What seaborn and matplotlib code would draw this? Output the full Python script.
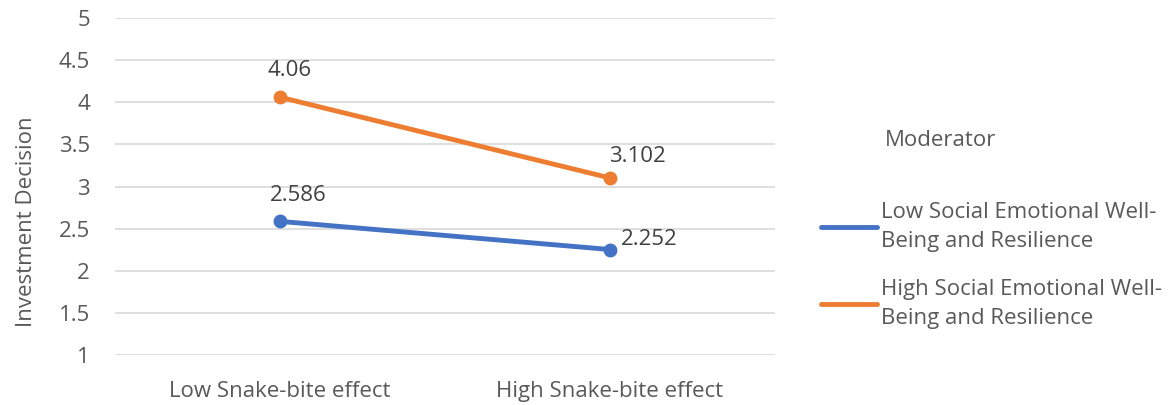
import pandas as pd
import matplotlib.pyplot as plt
import seaborn as sns

categories = ["Low Snake-bite effect", "High Snake-bite effect"]
series_names = ["Low Social Emotional Well-\nBeing and Resilience",
                "High Social Emotional Well-\nBeing and Resilience"]
low_values = [2.586, 2.252]
high_values = [4.06, 3.102]
y_ticks = [1, 1.5, 2, 2.5, 3, 3.5, 4, 4.5, 5]

sns.set_style("white")
plt.rcParams['font.family'] = ['Open Sans', 'DejaVu Sans']
text_col = '#595959'
fs = 16

df = pd.DataFrame({
    "x": list(range(len(categories))) * 2,
    "y": low_values + high_values,
    "Moderator": [series_names[0]] * 2 + [series_names[1]] * 2,
})

fig = plt.figure(figsize=(11.76, 4.05), dpi=100)
ax = fig.add_axes([0.0978, 0.1235, 0.561, 0.832])

sns.lineplot(data=df, x="x", y="y", hue="Moderator",
             palette=['#4472C4', '#ED7D31'], marker='o', markersize=10,
             markeredgewidth=0, linewidth=3.5, ax=ax)

ax.set_xlim(-0.5, 1.5)
ax.set_ylim(1, 5)
ax.set_xticks(range(len(categories)))
ax.set_xticklabels(categories)
ax.set_yticks(y_ticks)
ax.set_yticklabels([f'{t:g}' for t in y_ticks])
ax.tick_params(axis='both', length=0, labelsize=fs, colors=text_col)
ax.tick_params(axis='x', pad=19)
ax.tick_params(axis='y', pad=18)
ax.grid(axis='y', color='#d9d9d9', linewidth=1.2)
ax.set_axisbelow(True)
for s in ax.spines.values():
    s.set_visible(False)
ax.set_xlabel('')
ax.set_ylabel('Investment Decision', fontsize=fs, color=text_col, labelpad=16, y=0.395)

# data labels
offsets = {(0, 0): (13, 11), (0, 1): (7, 12), (1, 0): (8, 0), (1, 1): (20, 8)}
for si, vals in enumerate([low_values, high_values]):
    for xi, v in enumerate(vals):
        dx, dy = offsets[(xi, si)]
        ha = 'left' if (xi, si) == (1, 0) else 'center'
        ax.annotate(f'{v:g}', (xi, v), xytext=(dx, dy), textcoords='offset points',
                    ha=ha, va='bottom', fontsize=fs, color='#404040')

fig.text(885 / 1176, 1 - 140 / 405, 'Moderator', fontsize=fs, color=text_col,
         ha='left', va='center')
leg = ax.legend(loc='upper left', bbox_to_anchor=(1.057, 0.48),
                frameon=False, fontsize=fs,
                handlelength=2.5, handletextpad=0.2, labelspacing=1.2, borderaxespad=0)
for t in leg.get_texts():
    t.set_color(text_col)
    t.set_linespacing(1.5)
for h in leg.get_lines():
    h.set_linewidth(3.5)
    h.set_marker('')

plt.savefig('out.png', dpi=100)
